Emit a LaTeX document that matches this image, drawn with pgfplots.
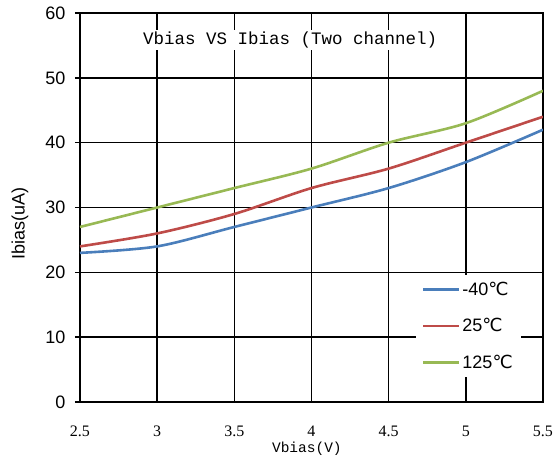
\documentclass[border=0pt]{standalone}
\usepackage{pgfplots}
\pgfplotsset{compat=1.18}
\usepackage{fontspec}
\setmainfont{Liberation Sans}
\newfontfamily\monofont{Liberation Mono}
\newfontfamily\tickfont{Liberation Serif}
\newfontfamily\symfont{DejaVu Sans}
\definecolor{cblue}{HTML}{4A7EBB}
\definecolor{cred}{HTML}{BE4B48}
\definecolor{cgreen}{HTML}{98B954}
\newcommand{\degC}{{\symfont ℃}}
\begin{document}
\begin{tikzpicture}
\begin{axis}[
    scale only axis,
    width=463pt, height=389pt,
    xmin=2.5, xmax=5.5, ymin=0, ymax=60,
    xtick={2.5,3,3.5,4,4.5,5,5.5},
    ytick={0,10,20,30,40,50,60},
    /pgf/number format/assume math mode=true,
    grid=major,
    grid style={black, line width=1.5pt},
    axis line style={line width=1.6pt},
    tick align=outside,
    ytick pos=left,
    xtick pos=bottom,
    major tick length=5pt,
    ytick style={black, line width=1.4pt},
    xtick style={draw=none},
    yticklabel style={font=\fontsize{18}{18}\selectfont, xshift=-6pt},
    xticklabel style={font=\tickfont\fontsize{16}{16}\selectfont, anchor=center, yshift=-24pt},
    xlabel={Vbias(V)},
    xlabel style={font=\monofont\fontsize{14.5}{14.5}\selectfont,
        at={([yshift=-47pt]rel axis cs:0.49,0)}, anchor=center},
    ylabel={Ibias(uA)},
    ylabel style={font=\fontsize{18}{18}\selectfont,
        at={([xshift=-60pt]rel axis cs:0,0.46)}, anchor=center},
    legend cell align=left,
    legend style={at={(rel axis cs:0.725,0.3265)}, anchor=north west,
        fill=white, draw=none, inner xsep=6pt, inner ysep=5pt, row sep=17.5pt,
        font=\fontsize{18}{18}\selectfont},
    legend image code/.code={\draw[#1] (0pt,0pt) -- (36pt,0pt);},
]
\addplot[cblue, line width=2.6pt, smooth] coordinates {
    (2.5,23) (3,24) (3.5,27) (4,30) (4.5,33) (5,37) (5.5,42)
};
\addplot[cred, line width=2.6pt, smooth] coordinates {
    (2.5,24) (3,26) (3.5,29) (4,33) (4.5,36) (5,40) (5.5,44)
};
\addplot[cgreen, line width=2.6pt, smooth] coordinates {
    (2.5,27) (3,30) (3.5,33) (4,36) (4.5,40) (5,43) (5.5,48)
};
\legend{-40\degC, 25\degC, 125\degC}
\node[font=\monofont\fontsize{17.5}{17.5}\selectfont, fill=white, inner sep=2pt]
    at (rel axis cs:0.454,0.93) {Vbias VS Ibias (Two channel)};
\end{axis}
\pgfresetboundingbox
\path (-80pt,-57pt) rectangle (475pt,402pt);
\end{tikzpicture}
\end{document}
